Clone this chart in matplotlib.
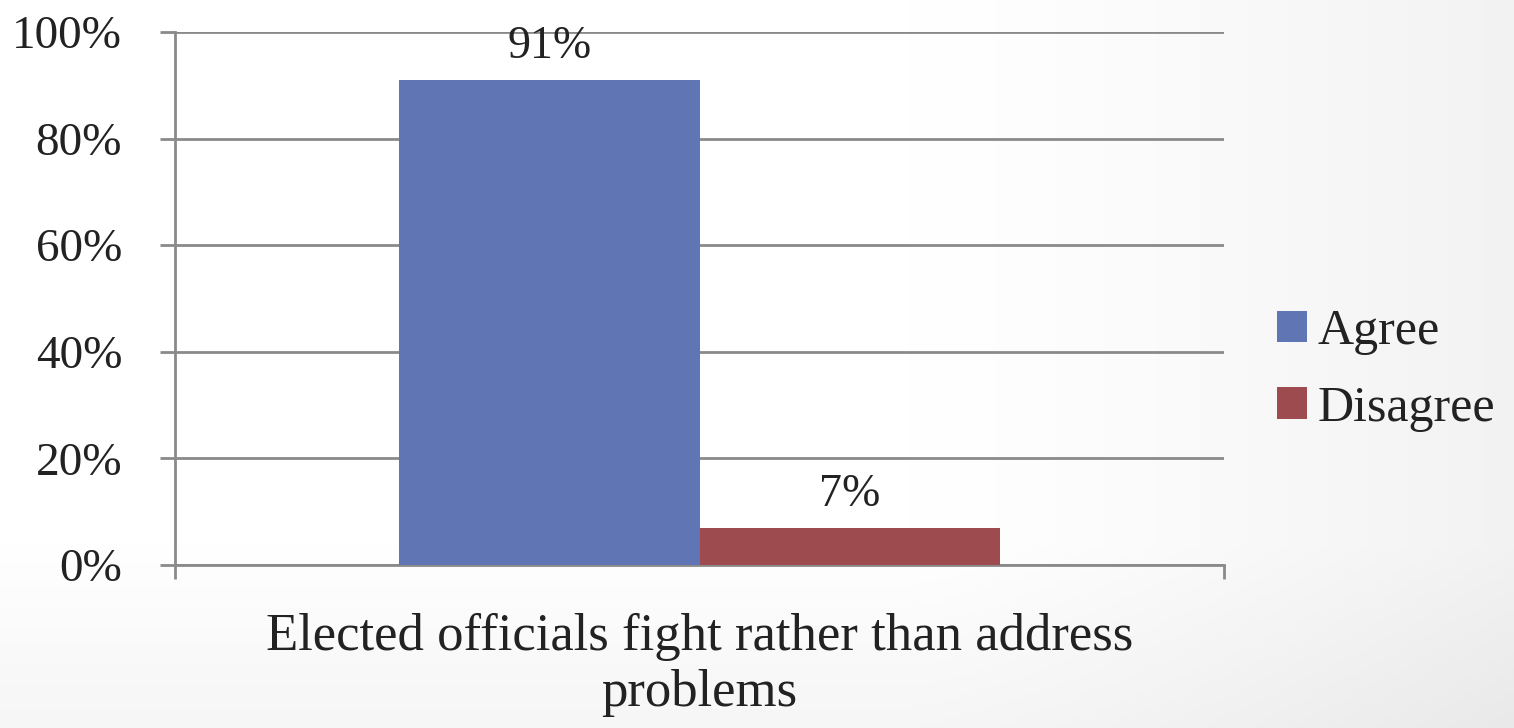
import numpy as np
import matplotlib
matplotlib.use("Agg")
import matplotlib.pyplot as plt
from matplotlib.patches import Patch

# Survey response shares (%)
category = "Elected officials fight rather than address\nproblems"
series = ["Agree", "Disagree"]
values = [91, 7]
colors = ["#5F75B4", "#9D4B4E"]
y_ticks = [0, 20, 40, 60, 80, 100]

plt.rcParams["font.family"] = ["Liberation Serif", "DejaVu Serif"]

fig = plt.figure(figsize=(15.14, 7.28), dpi=100)

# soft slide-style background: white, fading to a very light grey at the right and bottom
bg = fig.add_axes([0, 0, 1, 1], zorder=-10)
xx, yy = np.meshgrid(np.linspace(0, 1, 300), np.linspace(0, 1, 150))
shade = (1.0
         - 0.05 * np.clip((xx - 0.6) / 0.4, 0, 1) ** 1.3
         - 0.035 * np.clip((0.25 - yy) / 0.25, 0, 1))
bg.imshow(np.dstack([shade] * 3), extent=[0, 1, 0, 1], aspect="auto",
          origin="lower", vmin=0, vmax=1)
bg.axis("off")

ax = fig.add_axes([175 / 1514, 1 - 565 / 728, (1224 - 175) / 1514, (565 - 32) / 728])
ax.set_facecolor("none")

width = 0.286
offsets = [-width / 2, width / 2]
for name, val, col, off in zip(series, values, colors, offsets):
    ax.bar(off, val, width=width, color=col, label=name, zorder=3)
    ax.text(off, val + 2.2, f"{val}%", ha="center", va="bottom", fontsize=33, color="#222222")

ax.set_xlim(-0.5, 0.5)
ax.set_ylim(0, 100)
ax.set_yticks(y_ticks)
ax.set_yticklabels([f"{t}%" for t in y_ticks], fontsize=34, color="#222222")
ax.yaxis.grid(True, color="#8a8a8a", linewidth=2)
ax.set_axisbelow(True)

ax.set_xticks([-0.5, 0.5])
ax.set_xticklabels(["", ""])
ax.tick_params(axis="x", length=10, width=2, color="#8a8a8a", direction="out")
ax.tick_params(axis="y", length=11, width=2, color="#8a8a8a", pad=27)

for side in ["top", "right"]:
    ax.spines[side].set_visible(False)
for side in ["left", "bottom"]:
    ax.spines[side].set_color("#8a8a8a")
    ax.spines[side].set_linewidth(2)

ax.text(0.0, -9, category, ha="center", va="top", fontsize=38, color="#222222",
        linespacing=1.22, transform=ax.transData)

handles = [Patch(facecolor=c, label=s) for s, c in zip(series, colors)]
fig.legend(handles=handles, loc="center left", bbox_to_anchor=(1232 / 1514, 1 - 370 / 728),
           frameon=False, fontsize=36, handlelength=0.6, handleheight=0.6,
           handletextpad=0.22, labelspacing=0.6, labelcolor="#222222")

fig.savefig("out.png", dpi=100)
